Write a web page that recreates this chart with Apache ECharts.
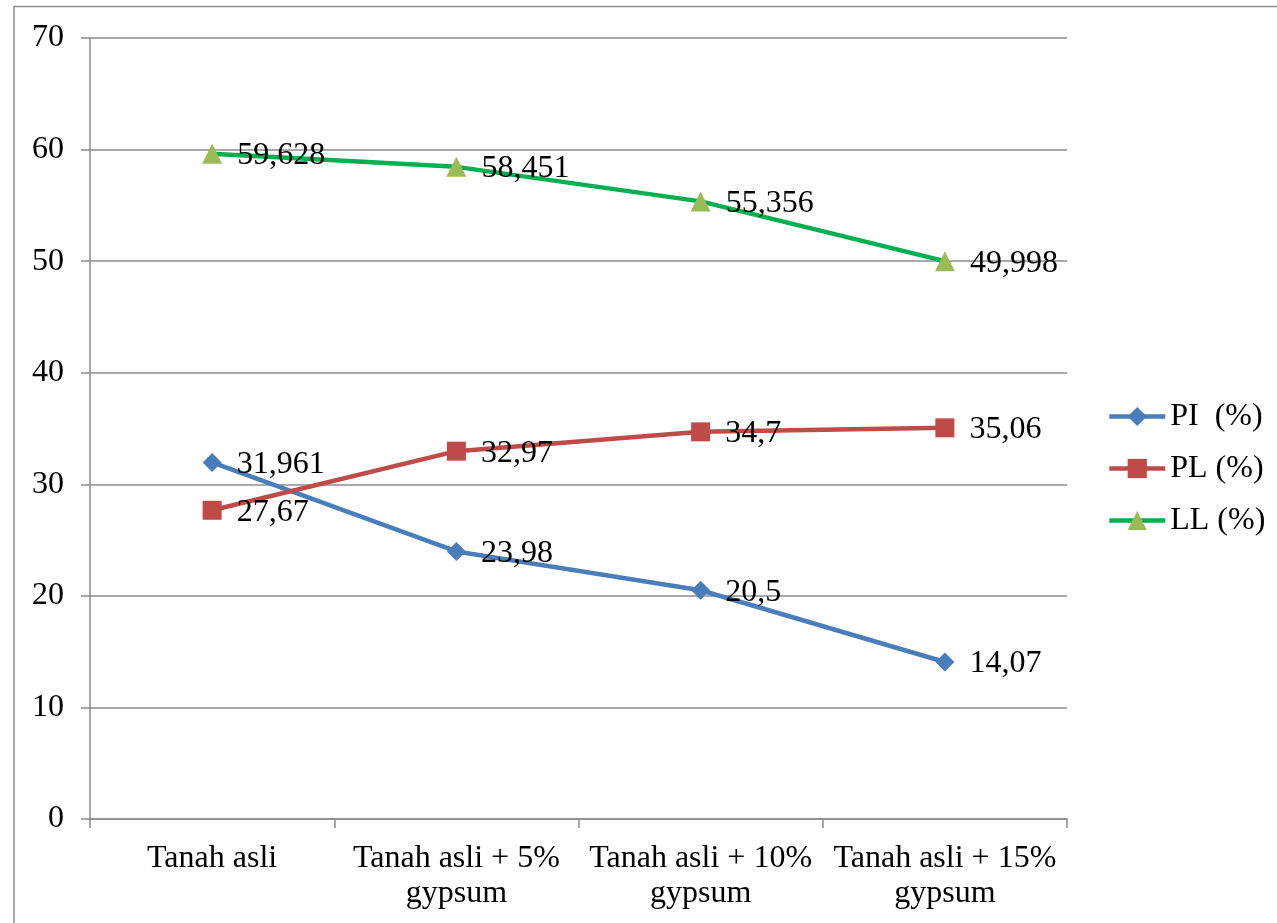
<!DOCTYPE html>
<html>
<head>
<meta charset="utf-8">
<style>
  html, body { margin: 0; padding: 0; background: #fff; }
  #chart { width: 1277px; height: 923px; }
</style>
<script src="https://cdn.jsdelivr.net/npm/echarts@6/dist/echarts.min.js"></script>
</head>
<body>
<div id="chart"></div>
<script>
// Atterberg limits of the soil with increasing gypsum content
const categories = ['Tanah asli', 'Tanah asli + 5%\ngypsum', 'Tanah asli + 10%\ngypsum', 'Tanah asli + 15%\ngypsum'];
const piValues = [31.961, 23.98, 20.5, 14.07];
const plValues = [27.67, 32.97, 34.7, 35.06];
const llValues = [59.628, 58.451, 55.356, 49.998];
const seriesNames = ['PI  (%)', 'PL (%)', 'LL (%)'];
const yTicks = { min: 0, max: 70, interval: 10 };

const FONT = '"Liberation Serif", "Times New Roman", serif';
const GRID_GRAY = '#8c8c8c';
const FONT_SIZE = 32;

// values are shown with a decimal comma
const fmt = p => String(p.value).replace('.', ',');

const labelStyle = {
  show: true,
  position: 'right',
  distance: 15,
  offset: [0, 2],
  formatter: fmt,
  color: '#000',
  fontFamily: FONT,
  fontSize: FONT_SIZE
};

function lineSeries(name, data, lineColor, markColor, symbol, size) {
  return {
    name: name,
    type: 'line',
    data: data,
    symbol: symbol,
    symbolSize: size,
    lineStyle: { color: lineColor, width: 4.5 },
    itemStyle: { color: markColor },
    label: labelStyle,
    z: 3
  };
}

const chart = echarts.init(document.getElementById('chart'), null, { renderer: 'canvas' });
chart.setOption({
  backgroundColor: '#fff',
  animation: false,
  grid: { left: 90, right: 210, top: 38, bottom: 104, containLabel: false },
  legend: {
    orient: 'vertical',
    left: 1102,
    top: 394,
    padding: 5,
    itemWidth: 56,
    itemHeight: 24,
    itemGap: 17,
    lineStyle: { width: 4.5 },
    textStyle: { color: '#000', fontFamily: FONT, fontSize: FONT_SIZE, lineHeight: 35 },
    data: seriesNames
  },
  xAxis: {
    type: 'category',
    data: categories,
    boundaryGap: true,
    axisLine: { lineStyle: { color: GRID_GRAY, width: 1.5 } },
    axisTick: { show: true, length: 9, alignWithLabel: false, lineStyle: { color: GRID_GRAY, width: 1.5 } },
    axisLabel: { color: '#000', fontFamily: FONT, fontSize: FONT_SIZE, lineHeight: 35, margin: 22, interval: 0 }
  },
  yAxis: {
    type: 'value',
    min: yTicks.min,
    max: yTicks.max,
    interval: yTicks.interval,
    axisLine: { show: true, lineStyle: { color: GRID_GRAY, width: 1.5 } },
    axisTick: { show: true, length: 9, lineStyle: { color: GRID_GRAY, width: 1.5 } },
    splitLine: { show: true, lineStyle: { color: GRID_GRAY, width: 1.5 } },
    axisLabel: { color: '#000', fontFamily: FONT, fontSize: FONT_SIZE, margin: 26 }
  },
  graphic: [{
    type: 'rect',
    shape: { x: 14, y: 6.5, width: 1400, height: 1000 },
    style: { fill: 'none', stroke: '#8c8c8c', lineWidth: 1.5 },
    silent: true
  }],
  series: [
    lineSeries(seriesNames[0], piValues, '#4a7ebb', '#4a7ebb', 'diamond', 19),
    lineSeries(seriesNames[1], plValues, '#be4b48', '#be4b48', 'rect', 19),
    lineSeries(seriesNames[2], llValues, '#00b050', '#9bbb59', 'triangle', 20)
  ]
});
</script>
</body>
</html>
